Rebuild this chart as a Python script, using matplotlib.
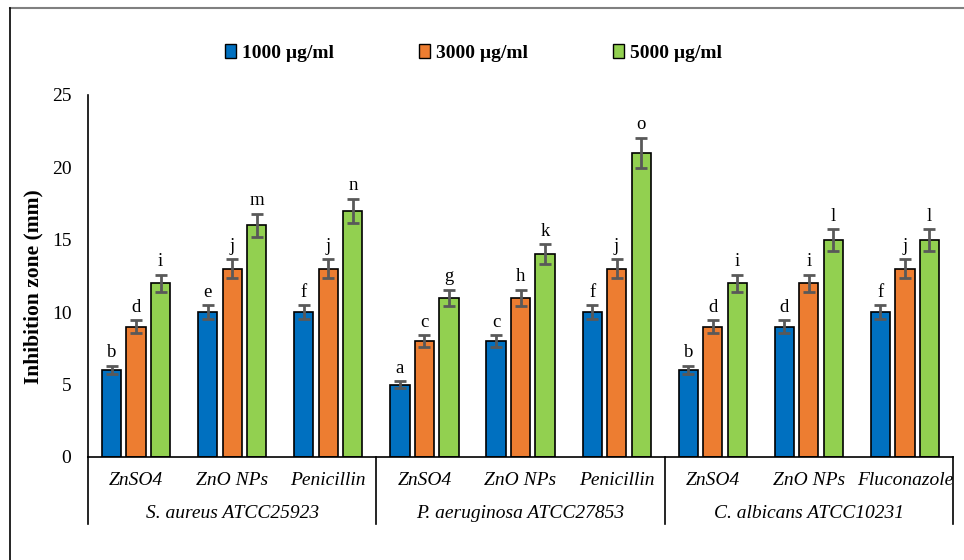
import numpy as np
import matplotlib
matplotlib.use("Agg")
from matplotlib import pyplot as plt
from matplotlib.patches import Patch
import matplotlib.transforms as mtransforms

treatments = ["ZnSO4", "ZnO NPs", "Penicillin", "ZnSO4", "ZnO NPs", "Penicillin",
              "ZnSO4", "ZnO NPs", "Fluconazole"]
organisms = ["S. aureus ATCC25923", "P. aeruginosa ATCC27853", "C. albicans ATCC10231"]
series = ["1000 µg/ml", "3000 µg/ml", "5000 µg/ml"]

vals_1000 = [6, 10, 10, 5, 8, 10, 6, 9, 10]
vals_3000 = [9, 13, 13, 8, 11, 13, 9, 12, 13]
vals_5000 = [12, 16, 17, 11, 14, 21, 12, 15, 15]

err_1000 = [0.3, 0.5, 0.5, 0.25, 0.4, 0.5, 0.3, 0.45, 0.5]
err_3000 = [0.45, 0.65, 0.65, 0.4, 0.55, 0.65, 0.45, 0.6, 0.65]
err_5000 = [0.6, 0.8, 0.85, 0.55, 0.7, 1.05, 0.6, 0.75, 0.75]

let_1000 = ["b", "e", "f", "a", "c", "f", "b", "d", "f"]
let_3000 = ["d", "j", "j", "c", "h", "j", "d", "i", "j"]
let_5000 = ["i", "m", "n", "g", "k", "o", "i", "l", "l"]

colors = ["#0070C0", "#ED7D31", "#92D050"]

plt.rcParams['font.family'] = ['Liberation Serif', 'DejaVu Serif']

fig = plt.figure(figsize=(9.64, 5.6), dpi=100)
ax = fig.add_axes([0.0913, 0.184, 0.8973, 0.6464])

x = np.arange(len(treatments))
step = 0.255
width = 0.2
data = [(vals_1000, err_1000, let_1000), (vals_3000, err_3000, let_3000),
        (vals_5000, err_5000, let_5000)]
for i, (v, e, lab) in enumerate(data):
    xs = x + (i - 1) * step
    ax.bar(xs, v, width, color=colors[i], edgecolor="black", linewidth=1.2, zorder=2)
    ax.errorbar(xs, v, yerr=e, fmt="none", ecolor="#595959", elinewidth=2,
                capsize=4, capthick=2, zorder=3)
    for xi, vi, ei, li in zip(xs, v, e, lab):
        ax.text(xi, vi + ei + 0.3, li, ha="center", va="bottom", fontsize=13.5)

ax.set_xlim(-0.5, 8.5)
ax.set_ylim(0, 25)
ax.set_yticks([0, 5, 10, 15, 20, 25])
ax.tick_params(axis="y", length=0, labelsize=14, pad=12)
ax.tick_params(axis="x", length=0)
ax.set_xticks([])
for s in ["top", "right"]:
    ax.spines[s].set_visible(False)
ax.spines["left"].set_linewidth(1.2)
ax.spines["bottom"].set_linewidth(1.2)
ax.set_ylabel("Inhibition zone (mm)", fontsize=15.5, fontweight="bold")
ax.yaxis.set_label_coords(-0.052, 0.47)

trans = mtransforms.blended_transform_factory(ax.transData, ax.transAxes)
for xi, t in zip(x, treatments):
    ax.text(xi, -0.064, t, transform=trans, ha="center", va="center",
            fontsize=14, style="italic")
for g, name in enumerate(organisms):
    ax.text(3 * g + 1, -0.155, name, transform=trans, ha="center", va="center",
            fontsize=14, style="italic")
for xb in [-0.5, 2.5, 5.5, 8.5]:
    ax.plot([xb, xb], [0, -0.185], transform=trans, color="black", lw=1.2,
            clip_on=False)

handles = [Patch(facecolor=c, edgecolor="black", linewidth=1) for c in colors]
fig.legend(handles, series, loc="center", bbox_to_anchor=(0.491, 0.905), ncol=3,
           frameon=False, handlelength=0.55, handleheight=0.7, handletextpad=0.3,
           columnspacing=4.4, prop={"weight": "bold", "size": 14})

# outer frame (top and left edges visible)
fig.add_artist(plt.Line2D([10 / 964, 1], [1 - 8 / 560, 1 - 8 / 560],
                          transform=fig.transFigure, color="#808080", lw=1.5))
fig.add_artist(plt.Line2D([10 / 964, 10 / 964], [0, 1 - 8 / 560],
                          transform=fig.transFigure, color="black", lw=1.2))

fig.savefig("out.png", dpi=100)
